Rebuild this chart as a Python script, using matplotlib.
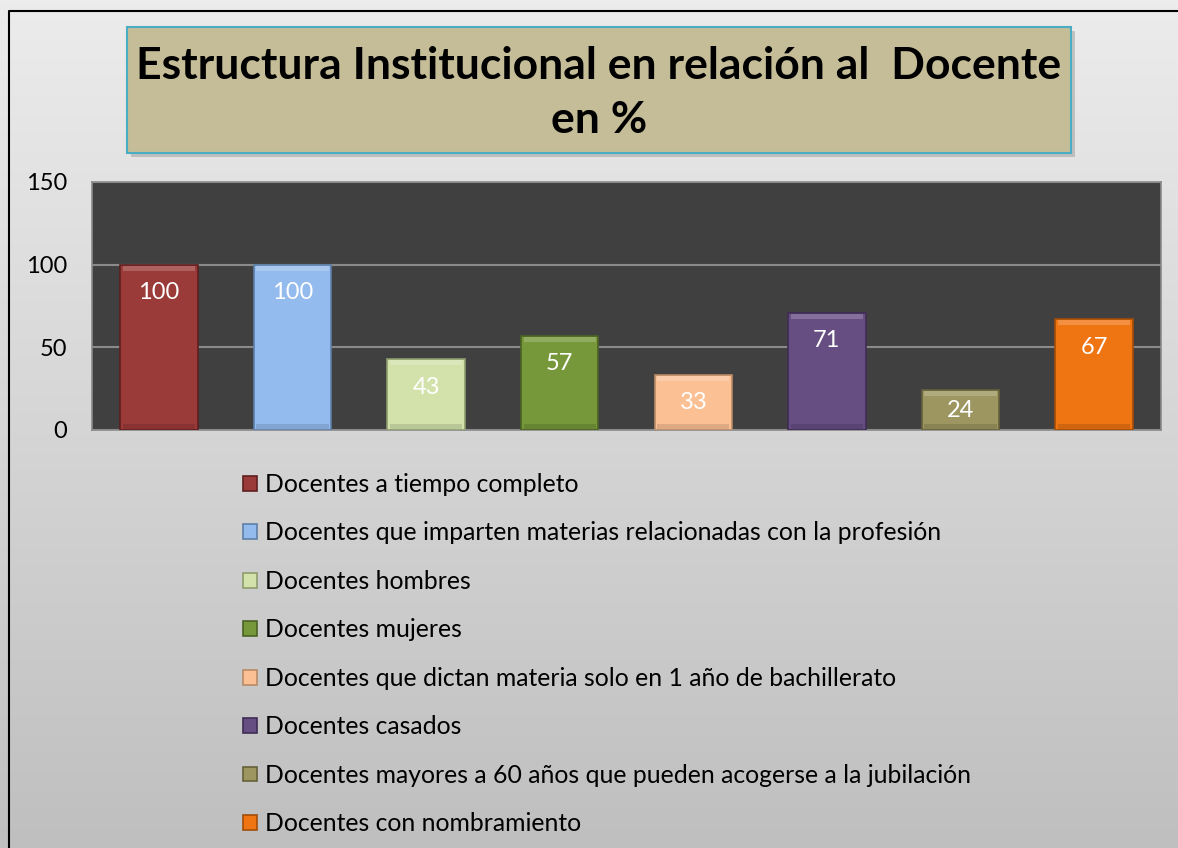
import matplotlib.pyplot as plt
import numpy as np
from matplotlib.patches import Rectangle

# datos
categorias = ["Docentes a tiempo completo",
              "Docentes que imparten materias relacionadas con la profesión",
              "Docentes hombres",
              "Docentes mujeres",
              "Docentes que dictan materia solo en 1 año de bachillerato",
              "Docentes casados",
              "Docentes mayores a 60 años que pueden acogerse a la jubilación",
              "Docentes con nombramiento"]
valores = [100, 100, 43, 57, 33, 71, 24, 67]
colores = ["#9b3b39", "#94bbed", "#d3e2ab", "#76973a", "#fbc195", "#664d82", "#9d9660", "#ef7412"]
bordes = ["#5e1f1e", "#5d7fa8", "#8e9c6c", "#4a6323", "#b98a66", "#3f2d55", "#66603a", "#a34d08"]
titulo = "Estructura Institucional en relación al  Docente\nen %"

plt.rcParams['font.family'] = ['Lato', 'DejaVu Sans']

W, H = 1178, 848
fig = plt.figure(figsize=(W / 100, H / 100), dpi=100)

# fondo con degradado
bg = fig.add_axes([0, 0, 1, 1], zorder=-10)
grad = np.linspace(0, 1, 256).reshape(-1, 1)
bg.imshow(grad, aspect='auto', cmap=plt.matplotlib.colors.LinearSegmentedColormap.from_list(
    "g", ["#ececec", "#bfbfbf"]), extent=[0, 1, 0, 1], origin='upper')
bg.set_xlim(0, 1)
bg.set_ylim(0, 1)
bg.axis('off')
# borde (solo izquierda y arriba visibles)
bg.plot([9 / W, 9 / W, 1.01], [-0.01, 1 - 11 / H, 1 - 11 / H], color='black', lw=1.5,
        transform=bg.transAxes)

# caja del titulo
bg.add_patch(Rectangle((131 / W, 1 - 157 / H), 944 / W, 126 / H, facecolor='#9a9a9a',
                       edgecolor='none', alpha=0.5, transform=bg.transAxes))
bg.add_patch(Rectangle((127 / W, 1 - 153 / H), 944 / W, 126 / H, facecolor='#c4bd97',
                       edgecolor='#4bacc6', lw=1.5, transform=bg.transAxes))
bg.text(599 / W, 1 - 93 / H, titulo, ha='center', va='center', fontsize=32,
        fontweight='bold', linespacing=1.4, transform=bg.transAxes)

# grafico
ax = fig.add_axes([92 / W, 1 - 430 / H, 1069 / W, 248 / H])
ax.set_facecolor('#404040')
x = np.arange(len(valores))
barras = []
for i in range(len(valores)):
    b = ax.bar(x[i], valores[i], width=0.58, color=colores[i], edgecolor=bordes[i],
               linewidth=1.2, label=categorias[i], zorder=3)
    barras.append(b)
    # brillo superior y sombra inferior (efecto bisel)
    ax.bar(x[i], 3, bottom=valores[i] - 3.6, width=0.54, color='white', alpha=0.2,
           linewidth=0, zorder=4)
    ax.bar(x[i], 3, bottom=0.4, width=0.54, color='black', alpha=0.12,
           linewidth=0, zorder=4)
    desp = min(17, valores[i] / 2)
    ax.text(x[i], valores[i] - desp, str(valores[i]), ha='center', va='center', color='white',
            fontsize=17, zorder=5)

ax.set_xlim(-0.5, len(valores) - 0.5)
ax.set_ylim(0, 150)
ax.set_yticks([0, 50, 100, 150])
ax.yaxis.grid(True, color='#8a8a8a', lw=1.5, zorder=1)
ax.set_xticks([])
ax.tick_params(axis='y', length=0, labelsize=17, pad=18)
for s in ax.spines.values():
    s.set_color('#8a8a8a')
    s.set_linewidth(1.2)

leg = fig.legend(handles=[b[0] for b in barras], labels=categorias,
                 loc='upper left', bbox_to_anchor=(243 / W, 1 - 473 / H), borderpad=0,
                 borderaxespad=0, frameon=False, fontsize=17.8, handlelength=0.55,
                 handleheight=0.55, handletextpad=0.36, labelspacing=1.03)

fig.savefig("out.png", dpi=100)
